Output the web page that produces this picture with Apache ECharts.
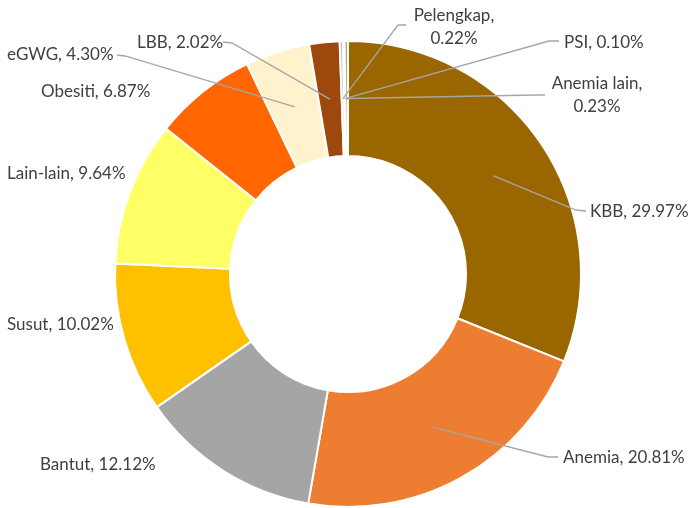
<!DOCTYPE html>
<html>
<head>
<meta charset="utf-8">
<script src="https://cdn.jsdelivr.net/npm/echarts@6/dist/echarts.min.js"></script>
<style>
  html, body { margin: 0; padding: 0; background: #ffffff; }
  #chart { width: 689px; height: 508px; }
</style>
</head>
<body>
<div id="chart"></div>
<script>
// Share of cases by category (percent), clockwise from 12 o'clock
const categories = ['KBB', 'Anemia', 'Bantut', 'Susut', 'Lain-lain', 'Obesiti', 'eGWG', 'LBB', 'Pelengkap', 'PSI', 'Anemia lain'];
const shares = [29.97, 20.81, 12.12, 10.02, 9.64, 6.87, 4.30, 2.02, 0.22, 0.10, 0.23];
const sliceColors = ['#996600', '#ED7D31', '#A5A5A5', '#FFC000', '#FFFF66', '#FF6600', '#FFF2CC', '#9E480E', '#AFC0DD', '#EFEFEF', '#C9A865'];

// Names whose labels break onto two lines
const twoLineLabels = ['Pelengkap', 'Anemia lain'];

// Ring geometry
const CX = 348, CY = 274, R_IN = 118, R_OUT = 233;
const R_GUIDE = (R_IN + R_OUT) / 2;

// Label anchors and the label-side end of each leader line (null = no leader)
const labelSpots = [
  { x: 590, y: 212, align: 'left',   guide: [[576, 210], [586, 211]] },
  { x: 563, y: 458, align: 'left',   guide: [[548, 457], [558, 457]] },
  { x: 40,  y: 465, align: 'left',   guide: null },
  { x: 7,   y: 325, align: 'left',   guide: null },
  { x: 7,   y: 174, align: 'left',   guide: null },
  { x: 41,  y: 92,  align: 'left',   guide: null },
  { x: 7,   y: 55,  align: 'left',   guide: [[125, 56], [117, 55]] },
  { x: 137, y: 43,  align: 'left',   guide: [[232, 43], [223, 42]] },
  { x: 454, y: 27,  align: 'center', guide: [[398, 25], [406, 25]] },
  { x: 564, y: 43,  align: 'left',   guide: [[549, 41], [559, 41]] },
  { x: 597, y: 95,  align: 'center', guide: [[535, 95], [545, 95]] }
];

const ringData = categories.map((name, i) => ({
  name: name,
  value: shares[i],
  itemStyle: { color: sliceColors[i] }
}));

// Same values again, invisible, so labels and leader lines sit above the ring
const labelData = categories.map((name, i) => ({
  name: name,
  value: shares[i],
  labelLine: { show: labelSpots[i].guide !== null }
}));

const ringBase = {
  type: 'pie',
  center: [CX, CY],
  radius: [R_IN, R_OUT],
  startAngle: 90,
  clockwise: true,
  avoidLabelOverlap: false
};

const chart = echarts.init(document.getElementById('chart'), null, { renderer: 'canvas' });

chart.setOption({
  backgroundColor: '#ffffff',
  animation: false,
  series: [
    Object.assign({}, ringBase, {
      z: 2,
      itemStyle: { borderColor: '#ffffff', borderWidth: 2 },
      label: { show: false },
      labelLine: { show: false },
      data: ringData
    }),
    Object.assign({}, ringBase, {
      z: 3,
      silent: true,
      itemStyle: { color: 'rgba(0,0,0,0)', borderWidth: 0 },
      label: {
        show: true,
        position: 'outside',
        color: '#404040',
        fontFamily: 'Lato, "Open Sans", sans-serif',
        fontSize: 17,
        lineHeight: 23,
        formatter: function (p) {
          const v = p.value.toFixed(2) + '%';
          return twoLineLabels.indexOf(p.name) >= 0 ? p.name + ',\n' + v : p.name + ', ' + v;
        }
      },
      labelLine: {
        show: true,
        smooth: false,
        lineStyle: { color: '#A6A6A6', width: 1.3 }
      },
      labelLayout: function (params) {
        const spot = labelSpots[params.dataIndex];
        const out = { x: spot.x, y: spot.y, align: spot.align, verticalAlign: 'middle' };
        if (spot.guide && params.labelLinePoints) {
          const p0 = params.labelLinePoints[0];
          const ang = Math.atan2(p0[1] - CY, p0[0] - CX);
          const start = [CX + R_GUIDE * Math.cos(ang), CY + R_GUIDE * Math.sin(ang)];
          out.labelLinePoints = [start, spot.guide[0], spot.guide[1]];
        }
        return out;
      },
      data: labelData
    })
  ]
});
</script>
</body>
</html>
